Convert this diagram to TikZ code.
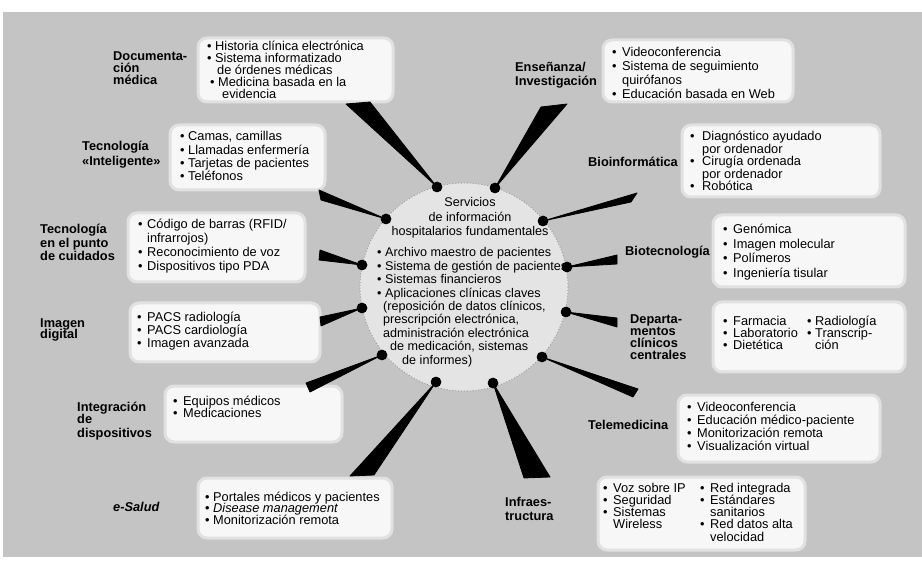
\documentclass[tikz,border=0pt]{standalone}
\usepackage{fontspec}
\setmainfont{Liberation Sans}
\usetikzlibrary{calc}

\definecolor{bggray}{RGB}{196,196,196}
\definecolor{panelwhite}{RGB}{247,247,247}
\definecolor{panelhalo}{RGB}{225,225,225}
\definecolor{hubfill}{RGB}{228,228,228}
\definecolor{hubedge}{RGB}{150,150,150}

% vertical stacks with a fixed line pitch; the node baseline is the first line
\newcommand\itemstack[3]{%
  \vtop{\baselineskip=#1\relax\lineskiplimit=-\maxdimen\lineskip=0pt
    \halign{\hbox to #2{##\hfil}&##\hfil\cr#3\crcr}}}
\newcommand\linestack[2]{%
  \vtop{\baselineskip=#1\relax\lineskiplimit=-\maxdimen\lineskip=0pt
    \halign{##\hfil\cr#2\crcr}}}
\newcommand\centerstack[2]{%
  \vtop{\baselineskip=#1\relax\lineskiplimit=-\maxdimen\lineskip=0pt
    \halign{\hfil##\hfil\cr#2\crcr}}}
\newcommand\spoke[3]{\filldraw[spokefill] (#1.center) -- (#2) -- (#3) -- cycle;}
\newcommand\bul{\textbullet}

\tikzset{
  panel/.style={fill=panelwhite, draw=panelhalo, line width=3pt, rounded corners=9pt},
  topic/.style={anchor=base west, inner sep=0pt, font=\fontsize{12.8}{13}\selectfont\bfseries},
  items/.style={anchor=base west, inner sep=0pt, font=\fontsize{12.8}{13}\selectfont},
  hubtext/.style={inner sep=0pt, font=\fontsize{12.6}{13}\selectfont},
  hubdot/.style={circle, fill=black, inner sep=0pt, minimum size=10.5pt},
  spokefill/.style={fill=black, draw=black, line width=0.8pt, line join=round},
  hubdisc/.style={circle, minimum size=208pt, inner sep=0pt, fill=hubfill,
    draw=hubedge, dotted, line width=0.9pt},
}

\begin{document}
\begin{tikzpicture}[x=1pt,y=-1pt]
\fill[white] (0,0) rectangle (922,564);
\useasboundingbox (0,0) rectangle (922,564);
\fill[bggray] (3,12) rectangle (922,557);

% white panels behind the lists
\filldraw[panel] (198,38) rectangle (393,102);
\filldraw[panel] (603,40) rectangle (793,102);
\filldraw[panel] (170,125) rectangle (325,190);
\filldraw[panel] (128,213) rectangle (305,282);
\filldraw[panel] (130,303) rectangle (320,362);
\filldraw[panel] (165,386) rectangle (342,442);
\filldraw[panel] (198,478) rectangle (392,538);
\filldraw[panel] (682,125) rectangle (880,197);
\filldraw[panel] (713,215) rectangle (905,287);
\filldraw[panel] (713,302) rectangle (905,372);
\filldraw[panel] (678,395) rectangle (880,462);
\filldraw[panel] (598,477) rectangle (805,550);

% central disc
\node[hubdisc] (hub) at (464,287) {};

% dots on the rim
\node[hubdot] (d1) at (437,187) {};
\node[hubdot] (d2) at (495,188) {};
\node[hubdot] (d3) at (386,219) {};
\node[hubdot] (d4) at (543,221) {};
\node[hubdot] (d5) at (362,265) {};
\node[hubdot] (d6) at (567,267) {};
\node[hubdot] (d7) at (362,308) {};
\node[hubdot] (d8) at (566,312) {};
\node[hubdot] (d9) at (382,355) {};
\node[hubdot] (d10) at (542,357) {};
\node[hubdot] (d11) at (436,382) {};
\node[hubdot] (d12) at (493,383) {};

% broad ends of the spokes
\coordinate (r1a) at (346,104);  \coordinate (r1b) at (370,102);
\coordinate (r2a) at (541,107);  \coordinate (r2b) at (567,104);
\coordinate (r3a) at (319,190);  \coordinate (r3b) at (321,200);
\coordinate (r4a) at (637,193);  \coordinate (r4b) at (631,202);
\coordinate (r5a) at (320,250);  \coordinate (r5b) at (319,260);
\coordinate (r6a) at (617,255);  \coordinate (r6b) at (617,264);
\coordinate (r7a) at (320,317);  \coordinate (r7b) at (321,326);
\coordinate (r8a) at (617,318);  \coordinate (r8b) at (617,327);
\coordinate (r9a) at (306,383);  \coordinate (r9b) at (310,392);
\coordinate (r10a) at (638,389); \coordinate (r10b) at (633,397);
\coordinate (r11a) at (350,476); \coordinate (r11b) at (374,475);
\coordinate (r12a) at (524,478); \coordinate (r12b) at (550,477);

\spoke{d1}{r1a}{r1b}
\spoke{d2}{r2a}{r2b}
\spoke{d3}{r3a}{r3b}
\spoke{d4}{r4a}{r4b}
\spoke{d5}{r5a}{r5b}
\spoke{d6}{r6a}{r6b}
\spoke{d7}{r7a}{r7b}
\spoke{d8}{r8a}{r8b}
\spoke{d9}{r9a}{r9b}
\spoke{d10}{r10a}{r10b}
\spoke{d11}{r11a}{r11b}
\spoke{d12}{r12a}{r12b}

% redraw dots above the spokes
\foreach \d in {d1,d2,d3,d4,d5,d6,d7,d8,d9,d10,d11,d12}
  \fill[black] (\d) circle (5.25pt);

% central text
\node[hubtext, anchor=base] (hubtitle) at (470,207)
  {\centerstack{14.5pt}{Servicios\cr de información\cr hospitalarios fundamentales}};
\node[hubtext, anchor=base west] (hublist) at (377,257)
  {\itemstack{13.4pt}{8pt}{%
    \bul & Archivo maestro de pacientes\cr
    \bul & Sistema de gestión de pacientes\cr
    \bul & Sistemas financieros\cr
    \bul & Aplicaciones clínicas claves\cr
         & \hspace*{-2pt}(reposición de datos clínicos,\cr
         & \hspace*{-2pt}prescripción electrónica,\cr
         & \hspace*{-2pt}administración electrónica\cr
         & \hspace*{5pt}de medicación, sistemas\cr
         & \hspace*{17pt}de informes)}};

% topic labels
\node[topic] (t1) at (113,61) {\linestack{11.7pt}{Documenta-\cr ción\cr médica}};
\node[topic] (t2) at (515,72) {\linestack{13.4pt}{Enseñanza/\cr Investigación}};
\node[topic] (t3) at (82,151) {\linestack{15pt}{Tecnología\cr «Inteligente»}};
\node[topic] (t4) at (40,234) {\linestack{13.5pt}{Tecnología\cr en el punto\cr de cuidados}};
\node[topic] (t5) at (40,327) {\linestack{12pt}{Imagen\cr digital}};
\node[topic] (t6) at (77,411) {\linestack{13pt}{Integración\cr de\cr dispositivos}};
\node[topic, font=\fontsize{12.8}{13}\selectfont\bfseries\itshape] (t7) at (113,511) {e-Salud};
\node[topic] (t8) at (588,167) {Bioinformática};
\node[topic] (t9) at (625,256) {Biotecnología};
\node[topic] (t10) at (630,324) {\linestack{11.7pt}{Departa-\cr mentos\cr clínicos\cr centrales}};
\node[topic] (t11) at (588,429) {Telemedicina};
\node[topic] (t12) at (505,506) {\linestack{14pt}{Infraes-\cr tructura}};

% lists
\node[items] (l1) at (207,51) {\itemstack{12pt}{8pt}{%
  \bul & Historia clínica electrónica\cr
  \bul & Sistema informatizado\cr
       & \hspace*{2pt}de órdenes médicas\cr
  \hspace*{3pt}\bul & \hspace*{3pt}Medicina basada en la\cr
       & \hspace*{7pt}evidencia}};
\node[items] (l2) at (612,57) {\itemstack{13.9pt}{10pt}{%
  \bul & Videoconferencia\cr
  \bul & Sistema de seguimiento\cr
       & quirófanos\cr
  \bul & Educación basada en Web}};
\node[items] (l3) at (180,141) {\itemstack{13.3pt}{8pt}{%
  \bul & Camas, camillas\cr
  \bul & Llamadas enfermería\cr
  \bul & Tarjetas de pacientes\cr
  \bul & Teléfonos}};
\node[items] (l4) at (138,229) {\itemstack{14pt}{9pt}{%
  \bul & Código de barras (RFID/\cr
       & infrarrojos)\cr
  \bul & Reconocimiento de voz\cr
  \bul & Dispositivos tipo PDA}};
\node[items] (l5) at (137,322) {\itemstack{12.7pt}{10pt}{%
  \bul & PACS radiología\cr
  \bul & PACS cardiología\cr
  \bul & Imagen avanzada}};
\node[items] (l6) at (173,406) {\itemstack{12pt}{10pt}{%
  \bul & Equipos médicos\cr
  \bul & Medicaciones}};
\node[items] (l7) at (205,501) {\itemstack{11.7pt}{8pt}{%
  \bul & Portales médicos y pacientes\cr
  \bul & \textit{Disease management}\cr
  \bul & Monitorización remota}};
\node[items] (l8) at (690,141) {\itemstack{12.5pt}{12pt}{%
  \bul & Diagnóstico ayudado\cr
       & por ordenador\cr
  \bul & Cirugía ordenada\cr
       & por ordenador\cr
  \bul & Robótica}};
\node[items] (l9) at (723,234) {\itemstack{14.4pt}{10pt}{%
  \bul & Genómica\cr
  \bul & Imagen molecular\cr
  \bul & Polímeros\cr
  \bul & Ingeniería tisular}};
\node[items] (l10a) at (723,326) {\itemstack{11.7pt}{10pt}{%
  \bul & Farmacia\cr
  \bul & Laboratorio\cr
  \bul & Dietética}};
\node[items] (l10b) at (807,326) {\itemstack{11.7pt}{8pt}{%
  \bul & Radiología\cr
  \bul & Transcrip-\cr
       & ción}};
\node[items] (l11) at (687,411) {\itemstack{13.3pt}{10pt}{%
  \bul & Videoconferencia\cr
  \bul & Educación médico-paciente\cr
  \bul & Monitorización remota\cr
  \bul & Visualización virtual}};
\node[items] (l12a) at (603,492) {\itemstack{12.3pt}{10pt}{%
  \bul & Voz sobre IP\cr
  \bul & Seguridad\cr
  \bul & Sistemas\cr
       & Wireless}};
\node[items] (l12b) at (700,492) {\itemstack{12.3pt}{10pt}{%
  \bul & Red integrada\cr
  \bul & Estándares\cr
       & sanitarios\cr
  \bul & Red datos alta\cr
       & velocidad}};
\end{tikzpicture}
\end{document}
